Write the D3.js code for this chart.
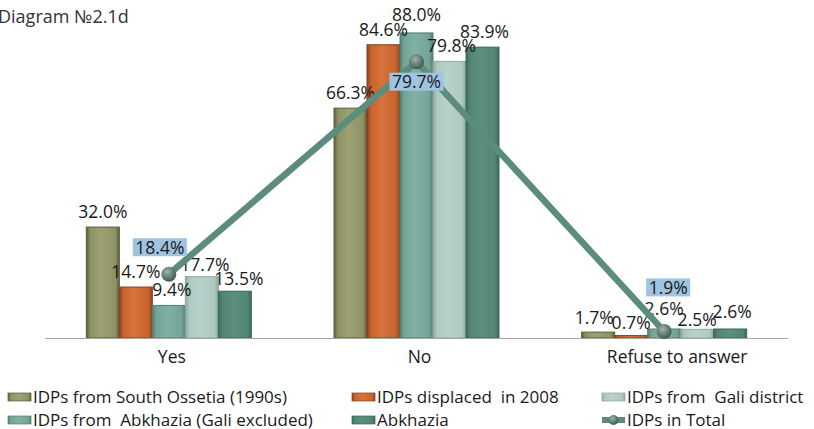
<!DOCTYPE html>
<html>
<head>
<meta charset="utf-8">
<script src="https://cdn.jsdelivr.net/npm/d3@7/dist/d3.min.js"></script>
<style>
  html, body { margin: 0; padding: 0; background: #fff; }
  svg { display: block; }
  text { font-family: "Open Sans", "DejaVu Sans", sans-serif; fill: #1a1a1a; white-space: pre; }
</style>
</head>
<body>
<svg id="chart" width="814" height="429"></svg>
<script>
// Survey answers by IDP group, percent
const categories = ["Yes", "No", "Refuse to answer"];
const barSeries = [
  "IDPs from South Ossetia (1990s)",
  "IDPs displaced  in 2008",
  "IDPs from  Abkhazia (Gali excluded)",
  "IDPs from  Gali district",
  "Abkhazia"
];
const southOssetia   = [32.0, 66.3, 1.7];
const displaced2008  = [14.7, 84.6, 0.7];
const abkhaziaNoGali = [9.4, 88.0, 2.6];
const galiDistrict   = [17.7, 79.8, 2.5];
const abkhazia       = [13.5, 83.9, 2.6];
const totalName = "IDPs in Total";
const total = [18.4, 79.7, 1.9];

const barValues = [southOssetia, displaced2008, abkhaziaNoGali, galiDistrict, abkhazia];

// Fill colours (edge, body, highlight) per bar series
const palette = [
  ["#5c5d3a", "#8f9264", "#9da072"],
  ["#8a4120", "#c8622f", "#d8733b"],
  ["#557f74", "#73a497", "#80b1a4"],
  ["#8ea8a1", "#adc9c2", "#b9d3cc"],
  ["#3d685b", "#538577", "#5c8f80"]
];
const lineColor = "#5b8c7c";
const boxColor = "#9fc3e0";

// Small label nudges so crowded value labels stay readable
const labelNudge = {
  "0-2": [-4, 1], "1-2": [0, 2], "2-2": [0, -5], "3-2": [0, 6], "4-2": [2, -2],
  "1-1": [0, 0], "2-1": [0, -3], "3-1": [2, 0], "4-1": [2, 0],
  "2-0": [3, 0], "3-0": [3, 3], "4-0": [4, 3]
};

const svg = d3.select("#chart");
const baseY = 338;

const x0 = d3.scaleBand().domain(categories).range([45, 788]).paddingInner(0).paddingOuter(0);
const groupW = 165;
const x1 = d3.scaleBand().domain(d3.range(barSeries.length)).range([0, groupW]).padding(0);
const y = d3.scaleLinear().domain([0, 90]).range([baseY, baseY - 312]);

const defs = svg.append("defs");
palette.forEach((c, i) => {
  const g = defs.append("linearGradient").attr("id", "bar" + i)
    .attr("x1", "0%").attr("x2", "100%").attr("y1", "0%").attr("y2", "0%");
  g.append("stop").attr("offset", "0%").attr("stop-color", c[0]);
  g.append("stop").attr("offset", "12%").attr("stop-color", c[1]);
  g.append("stop").attr("offset", "45%").attr("stop-color", c[2]);
  g.append("stop").attr("offset", "88%").attr("stop-color", c[1]);
  g.append("stop").attr("offset", "100%").attr("stop-color", c[0]);
});
const mg = defs.append("radialGradient").attr("id", "marker").attr("cx", "40%").attr("cy", "35%").attr("r", "70%");
mg.append("stop").attr("offset", "0%").attr("stop-color", "#9fb3ad");
mg.append("stop").attr("offset", "60%").attr("stop-color", "#5d7a72");
mg.append("stop").attr("offset", "100%").attr("stop-color", "#3d524c");

// Title
svg.append("text").attr("x", -2).attr("y", 23)
  .style("font-size", "18px").style("fill", "#333")
  .text("Diagram №2.1d");

// Bars
const groups = svg.selectAll("g.grp").data(categories).join("g")
  .attr("class", "grp")
  .attr("transform", d => `translate(${x0(d) + (x0.bandwidth() - groupW) / 2},0)`);

barSeries.forEach((s, si) => {
  groups.append("rect")
    .attr("x", x1(si))
    .attr("y", (d, ci) => y(barValues[si][ci]))
    .attr("width", x1.bandwidth())
    .attr("height", (d, ci) => baseY - y(barValues[si][ci]))
    .attr("fill", `url(#bar${si})`)
    .attr("stroke", palette[si][0])
    .attr("stroke-width", 1);
});

// Baseline
svg.append("line").attr("x1", 45).attr("x2", 788).attr("y1", baseY + 0.5).attr("y2", baseY + 0.5)
  .attr("stroke", "#a6a6a6").attr("stroke-width", 1);

// Bar value labels
const nudge = (si, ci) => labelNudge[si + "-" + ci] || [0, 0];
barSeries.forEach((s, si) => {
  groups.append("text")
    .attr("x", (d, ci) => x1(si) + x1.bandwidth() / 2 + nudge(si, ci)[0])
    .attr("y", (d, ci) => y(barValues[si][ci]) - 9 + nudge(si, ci)[1])
    .attr("text-anchor", "middle")
    .style("font-size", "17.5px")
    .text((d, ci) => barValues[si][ci].toFixed(1) + "%");
});

// Total line with markers
const cx = c => x0(c) + x0.bandwidth() / 2;
const line = d3.line().x((d, i) => cx(categories[i])).y(d => y(d));
svg.append("path").datum(total).attr("d", line)
  .attr("fill", "none").attr("stroke", lineColor).attr("stroke-width", 6.5)
  .attr("stroke-linejoin", "round");
svg.selectAll("circle.pt").data(total).join("circle").attr("class", "pt")
  .attr("cx", (d, i) => cx(categories[i])).attr("cy", d => y(d)).attr("r", 7.5)
  .attr("fill", "url(#marker)");

// Total value labels in boxes
const boxPos = [[-9, -27], [0, 20], [4, -44]];
total.forEach((v, i) => {
  const tx = cx(categories[i]) + boxPos[i][0];
  const ty = y(v) + boxPos[i][1];
  const g = svg.append("g");
  const t = g.append("text").attr("x", tx).attr("y", ty + 6.5)
    .attr("text-anchor", "middle").style("font-size", "17.5px").text(v.toFixed(1) + "%");
  const bb = t.node().getBBox();
  g.insert("rect", "text").attr("x", bb.x - 2.5).attr("y", ty - 9)
    .attr("width", bb.width + 5).attr("height", 18).attr("fill", boxColor);
});

// Category labels
const catNudge = [3, 3, 13];
svg.selectAll("text.cat").data(categories).join("text").attr("class", "cat")
  .attr("x", (d, i) => cx(d) + catNudge[i]).attr("y", 363)
  .attr("text-anchor", "middle").style("font-size", "17.5px")
  .text(d => d);

// Legend
const legendItems = [
  { name: barSeries[0], type: "bar", s: 0, col: 0, row: 0 },
  { name: barSeries[1], type: "bar", s: 1, col: 1, row: 0 },
  { name: barSeries[3], type: "bar", s: 3, col: 2, row: 0 },
  { name: barSeries[2], type: "bar", s: 2, col: 0, row: 1 },
  { name: barSeries[4], type: "bar", s: 4, col: 1, row: 1 },
  { name: totalName, type: "line", col: 2, row: 1 }
];
const colX = [8, 352, 602];
const rowY = [397, 420];
const lg = svg.append("g");
legendItems.forEach(it => {
  const lx = colX[it.col], ly = rowY[it.row];
  if (it.type === "bar") {
    lg.append("rect").attr("x", lx).attr("y", ly - 4).attr("width", 23).attr("height", 8)
      .attr("fill", `url(#bar${it.s})`).attr("stroke", palette[it.s][0]).attr("stroke-width", 0.7);
  } else {
    lg.append("line").attr("x1", lx).attr("x2", lx + 23).attr("y1", ly).attr("y2", ly)
      .attr("stroke", lineColor).attr("stroke-width", 6);
    lg.append("circle").attr("cx", lx + 11.5).attr("cy", ly).attr("r", 5).attr("fill", "url(#marker)");
  }
  lg.append("text").attr("x", lx + 25).attr("y", ly + 6).style("font-size", "17px").text(it.name);
});
</script>
</body>
</html>
